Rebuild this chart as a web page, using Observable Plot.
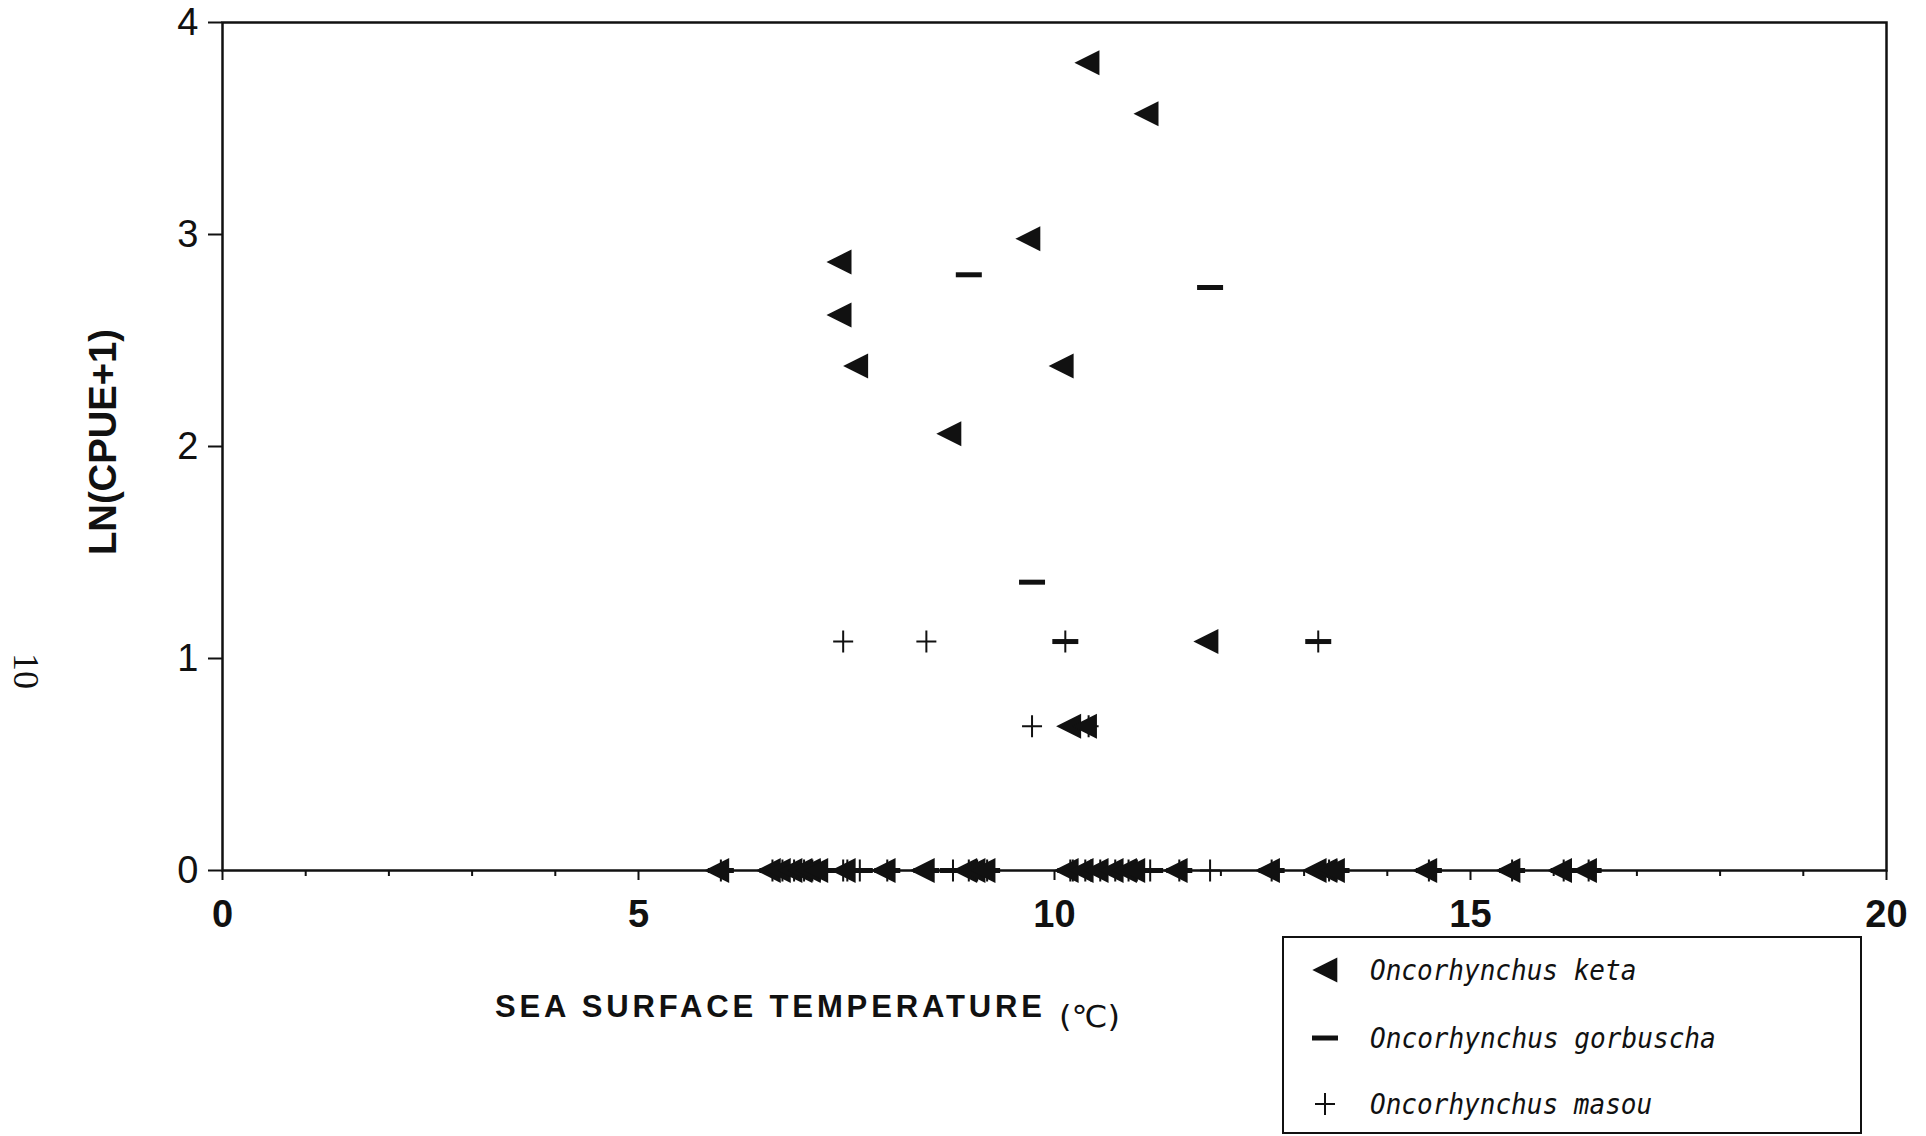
<!DOCTYPE html>
<html>
<head>
<meta charset="utf-8">
<script src="https://cdn.jsdelivr.net/npm/d3@7"></script>
<script src="https://cdn.jsdelivr.net/npm/@observablehq/plot@0.6"></script>
<style>
  html, body { margin: 0; padding: 0; background: #fff; }
  #chart { position: relative; width: 1926px; height: 1136px; overflow: hidden; }
  #chart svg [aria-label="x-axis tick label"] text,
  #chart svg g[aria-label="x-axis"] text { font-weight: bold; font-size: 38px; }
  #chart svg [aria-label="y-axis tick label"] text,
  #chart svg g[aria-label="y-axis"] text { font-weight: normal; font-size: 38px; }
  #chart svg [aria-label="x-axis tick"],
  #chart svg [aria-label="y-axis tick"],
  #chart svg g[aria-label="x-axis"] line,
  #chart svg g[aria-label="y-axis"] line { stroke-width: 2px; }
</style>
</head>
<body>
<div id="chart"></div>
<script>
// ---- tick labels ----
const xTicks = [0, 5, 10, 15, 20];
const yTicks = [0, 1, 2, 3, 4];
const minorXTicks = [1, 2, 3, 4, 6, 7, 8, 9, 11, 12, 13, 14, 16, 17, 18, 19];

// ---- series names ----
const speciesNames = ["Oncorhynchus keta", "Oncorhynchus gorbuscha", "Oncorhynchus masou"];

// ---- stations: sea surface temperature (°C) ----
const sst = [5.99, 6.61, 6.73, 6.87, 6.99, 7.09, 7.18, 7.46, 7.46, 7.51,
             7.66, 7.99, 8.46, 8.78, 8.97, 9.07, 9.19, 9.73, 10.13, 10.19,
             10.22, 10.37, 10.41, 10.44, 10.55, 10.73, 10.89, 10.99, 11.15, 11.50,
             11.87, 12.61, 13.17, 13.30, 13.39, 14.50, 15.50, 16.12, 16.42];
// ---- LN(CPUE+1) per species at each station ----
const keta = [0, 0, 0, 0, 0, 0, 0, 2.87, 2.62, 0,
              2.38, 0, 0, 2.06, 0, 0, 0, 2.98, 2.38, 0,
              0.68, 0, 0.68, 3.81, 0, 0, 0, 0, 3.57, 0,
              1.08, 0, 0, 0, 0, 0, 0, 0, 0];
const gorbuscha = [0, 0, 0, 0, 0, 0, 0, 0, 0, 0,
                   0, 0, 0, 0, 2.81, 0, 0, 1.36, 1.08, 0,
                   0, 0, 0, 0, 0, 0, 0, 0, 0, 0,
                   2.75, 0, 1.08, 0, 0, 0, 0, 0, 0];
const masou = [0, 0, 0, 0, 0, 0, 0, 1.08, 0, 0,
               0, 0, 1.08, 0, 0, 0, 0, 0.68, 1.08, 0,
               0, 0, 0.68, 0, 0, 0, 0, 0, 0, 0,
               0, 0, 1.08, 0, 0, 0, 0, 0, 0];

const stations = sst.map((t, i) => ({sst: t, keta: keta[i], gorbuscha: gorbuscha[i], masou: masou[i]}));

// ---- marker shapes ----
const triLeft = {draw(ctx) { ctx.moveTo(-16.7, 0); ctx.lineTo(8.3, -12.5); ctx.lineTo(8.3, 12.5); ctx.closePath(); }};
const dashSym = {draw(ctx) { ctx.moveTo(-13, -2.5); ctx.lineTo(13, -2.5); ctx.lineTo(13, 2.5); ctx.lineTo(-13, 2.5); ctx.closePath(); }};
const plusSym = {draw(ctx) { ctx.moveTo(-10, 0); ctx.lineTo(10, 0); ctx.moveTo(0, -11); ctx.lineTo(0, 11); }};

const W = 1926, H = 1136;
const mL = 222, mR = 40, mT = 22, mB = 266;
const ink = "#111";

const plot = Plot.plot({
  width: W, height: H,
  marginLeft: mL, marginRight: mR, marginTop: mT, marginBottom: mB,
  style: {fontFamily: "'Liberation Sans', Arial, sans-serif", fontSize: "38px", color: ink, background: "#fff", overflow: "visible"},
  x: {domain: [0, 20], ticks: xTicks, tickSize: 10, tickPadding: 20, label: null, tickFormat: d => String(d)},
  y: {domain: [0, 4], ticks: yTicks, tickSize: 14, tickPadding: 10, label: null, tickFormat: d => String(d)},
  marks: [
    Plot.frame({stroke: ink, strokeWidth: 2.5}),
    Plot.ruleX(minorXTicks, {x: d => d, insetTop: H - mT - mB, insetBottom: -6, stroke: ink, strokeWidth: 2}),
    Plot.dot(stations, {x: "sst", y: "gorbuscha", symbol: dashSym, fill: ink, stroke: "none"}),
    Plot.dot(stations, {x: "sst", y: "masou", symbol: plusSym, fill: "none", stroke: ink, strokeWidth: 2}),
    Plot.dot(stations, {x: "sst", y: "keta", symbol: triLeft, fill: ink, stroke: "none"})
  ]
});

document.getElementById("chart").appendChild(plot);
const svg = d3.select(plot);

// y-axis title
svg.append("text")
  .attr("transform", "translate(102,442) rotate(-90)")
  .attr("text-anchor", "middle").attr("dominant-baseline", "central")
  .attr("font-family", "'Liberation Sans Narrow', 'Liberation Sans', Arial, sans-serif")
  .attr("font-weight", "bold").attr("font-size", 39)
  .attr("textLength", 226).attr("lengthAdjust", "spacingAndGlyphs")
  .attr("fill", ink)
  .text("LN(CPUE+1)");

// x-axis title
svg.append("text")
  .attr("x", 495).attr("y", 1017)
  .attr("text-anchor", "start")
  .attr("font-family", "'Liberation Sans Narrow', 'Liberation Sans', Arial, sans-serif")
  .attr("font-weight", "bold").attr("font-size", 31)
  .attr("textLength", 547).attr("lengthAdjust", "spacing")
  .attr("fill", ink)
  .text("SEA SURFACE TEMPERATURE");
svg.append("text")
  .attr("x", 1059).attr("y", 1027)
  .attr("text-anchor", "start")
  .attr("font-family", "'DejaVu Sans', sans-serif")
  .attr("font-size", 30)
  .attr("textLength", 61).attr("lengthAdjust", "spacingAndGlyphs")
  .attr("fill", ink)
  .text("(℃)");

// page number
svg.append("text")
  .attr("transform", "translate(26,671) rotate(90)")
  .attr("text-anchor", "middle").attr("dominant-baseline", "central")
  .attr("font-family", "'Liberation Serif', 'DejaVu Serif', serif")
  .attr("font-size", 36)
  .attr("fill", ink)
  .text("10");

// legend
const lg = svg.append("g");
lg.append("rect").attr("x", 1283).attr("y", 937).attr("width", 578).attr("height", 196)
  .attr("fill", "#fff").attr("stroke", ink).attr("stroke-width", 2);
const legendShapes = [triLeft, dashSym, plusSym];
const legendY = [970, 1038, 1104];
speciesNames.forEach((name, i) => {
  const p = d3.symbol().type(legendShapes[i])();
  const path = lg.append("path").attr("d", p).attr("transform", `translate(${i === 0 ? 1329 : 1325},${legendY[i]})`);
  if (i === 2) path.attr("fill", "none").attr("stroke", ink).attr("stroke-width", 2);
  else path.attr("fill", ink);
  lg.append("text")
    .attr("x", 1370).attr("y", legendY[i] + 10)
    .attr("text-anchor", "start")
    .attr("font-family", "'DejaVu Sans Mono', monospace")
    .attr("font-style", "italic").attr("font-size", 29)
    .attr("textLength", name.length * 15.9 - 4).attr("lengthAdjust", "spacingAndGlyphs")
    .attr("fill", ink)
    .text(name);
});
</script>
</body>
</html>
